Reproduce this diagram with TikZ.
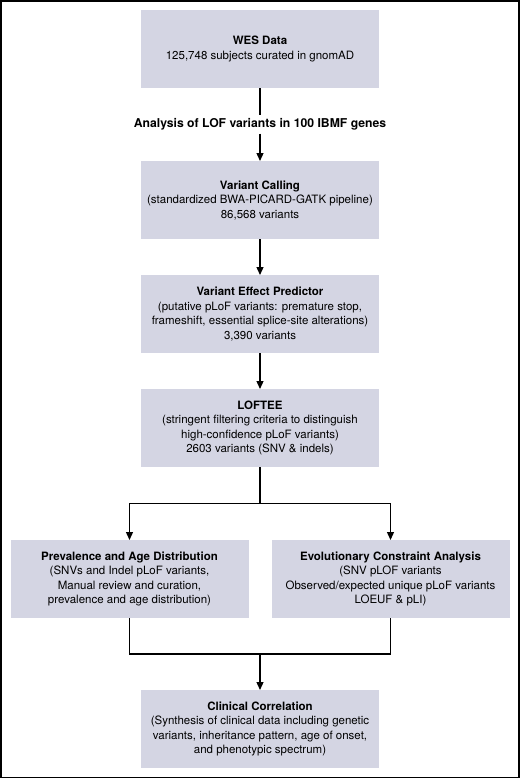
\documentclass[tikz,border=0pt]{standalone}
\usepackage{fontspec}
\setmainfont{TeX Gyre Heros}
\usetikzlibrary{arrows.meta}
\definecolor{boxfill}{HTML}{D4D5E3}
\tikzset{
  box/.style={fill=boxfill, draw=none, minimum width=238pt, minimum height=78pt, inner sep=0pt, align=center, font=\fontsize{11.5}{14.5}\selectfont, anchor=north},
  conn/.style={line width=1.3pt, black},
  arr/.style={conn, -{Triangle[length=8pt,width=7pt]}},
}
\begin{document}
\begin{tikzpicture}[x=1pt,y=-1pt]
\useasboundingbox (0,0) rectangle (520,779);
\draw[line width=1.6pt] (0.8,0.8) rectangle (519.2,777.6);
\node[box] (wes) at (260,10) {\textbf{WES Data}\\125,748 subjects curated in gnomAD};
\node[font=\bfseries\fontsize{12.2}{14.5}\selectfont, inner sep=3pt] (lab) at (260,124.5) {Analysis of LOF variants in 100 IBMF genes};
\node[box] (vc) at (260,161) {\textbf{Variant Calling}\\(standardized BWA-PICARD-GATK pipeline)\\86,568 variants};
\node[box] (vep) at (260,275) {\textbf{Variant Effect Predictor}\\(putative pLoF variants: premature stop,\\frameshift, essential splice-site alterations)\\3,390 variants};
\node[box] (lof) at (260,389) {\textbf{LOFTEE}\\(stringent filtering criteria to distinguish\\high-confidence pLoF variants)\\2603 variants (SNV \& indels)};
\node[box] (prev) at (129.5,540) {\textbf{Prevalence and Age Distribution}\\(SNVs and Indel pLoF variants,\\Manual review and curation,\\prevalence and age distribution)};
\node[box] (evo) at (390.5,540) {\textbf{Evolutionary Constraint Analysis}\\(SNV pLOF variants\\Observed/expected unique pLoF variants\\LOEUF \& pLI)};
\node[box] (clin) at (260,690) {\textbf{Clinical Correlation}\\(Synthesis of clinical data including genetic\\variants, inheritance pattern, age of onset,\\and phenotypic spectrum)};
\coordinate (split) at (260,503.5);
\coordinate (merge) at (260,654);
\draw[conn] (wes.south) -- (lab.north);
\draw[arr] (lab.south) -- (vc.north);
\draw[arr] (vc.south) -- (vep.north);
\draw[arr] (vep.south) -- (lof.north);
\draw[conn] (lof.south) -- (split);
\draw[arr] (split) -| (prev.north);
\draw[arr] (split) -| (evo.north);
\draw[conn] (prev.south) |- (merge);
\draw[conn] (evo.south) |- (merge);
\draw[arr] (merge) -- (clin.north);
\end{tikzpicture}
\end{document}
